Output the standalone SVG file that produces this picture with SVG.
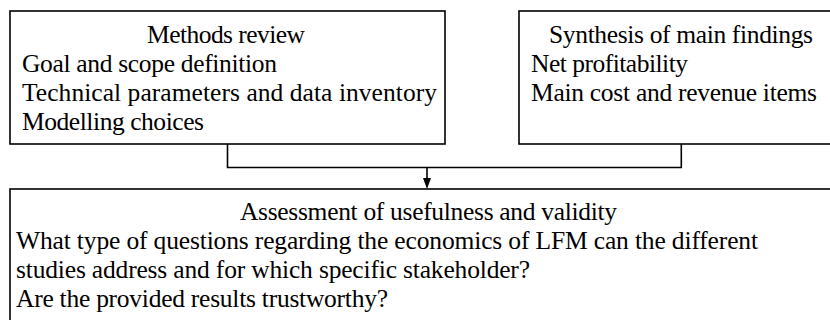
<svg xmlns="http://www.w3.org/2000/svg" width="830" height="320" viewBox="0 0 830 320">
<defs>
<style>
.box{fill:#fff;stroke:#000;stroke-width:1.6}
.t{font-family:"Liberation Serif","Times New Roman",serif;font-size:25.5px;fill:#000}
.c{text-anchor:middle}
.conn{fill:none;stroke:#000;stroke-width:1.6}
.head{fill:#000;stroke:none}
</style>
</defs>
<rect width="830" height="320" fill="#fff"/>
<g id="methods">
<rect class="box" x="10" y="11" width="435" height="133"/>
<text class="t c" x="226" y="42.5" textLength="158" font-family="Liberation Serif, serif">Methods review</text>
<text class="t" x="22" y="71.5" textLength="255" font-family="Liberation Serif, serif">Goal and scope definition</text>
<text class="t" x="22" y="100.5" textLength="415" font-family="Liberation Serif, serif">Technical parameters and data inventory</text>
<text class="t" x="22" y="129.5" textLength="182" font-family="Liberation Serif, serif">Modelling choices</text>
</g>
<g id="synthesis">
<rect class="box" x="519" y="11" width="320" height="133"/>
<text class="t c" x="681" y="42.5" textLength="264" font-family="Liberation Serif, serif">Synthesis of main findings</text>
<text class="t" x="531" y="71.5" textLength="157" font-family="Liberation Serif, serif">Net profitability</text>
<text class="t" x="531" y="100.5" textLength="286" font-family="Liberation Serif, serif">Main cost and revenue items</text>
</g>
<g id="assessment">
<rect class="box" x="10" y="189" width="830" height="140"/>
<text class="t c" x="428.5" y="220" textLength="377" font-family="Liberation Serif, serif">Assessment of usefulness and validity</text>
<text class="t" x="16" y="249" textLength="742" font-family="Liberation Serif, serif">What type of questions regarding the economics of LFM can the different</text>
<text class="t" x="16" y="278" textLength="514" font-family="Liberation Serif, serif">studies address and for which specific stakeholder?</text>
<text class="t" x="16" y="306.5" textLength="372" font-family="Liberation Serif, serif">Are the provided results trustworthy?</text>
</g>
<g id="connectors">
<polyline class="conn" points="227.5,144 227.5,167.5 681.3,167.5 681.3,144"/>
<line class="conn" x1="427" y1="167.5" x2="427" y2="179"/>
<polygon class="head" points="423,178 431,178 427,189"/>
</g>
</svg>
